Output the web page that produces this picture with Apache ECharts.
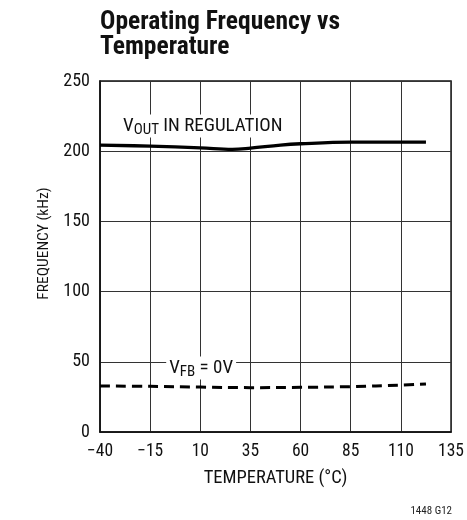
<!DOCTYPE html>
<html><head><meta charset="utf-8">
<script src="https://cdn.jsdelivr.net/npm/echarts@6/dist/echarts.min.js"></script>
<style>html,body{margin:0;padding:0;background:#fff}#c{width:467px;height:520px}</style>
</head><body><div id="c"></div>
<script>
const FONT = '"Roboto Condensed","Liberation Sans Narrow",sans-serif';
const titleLines = ['Operating Frequency vs', 'Temperature'];
const xTicks = [-40, -15, 10, 35, 60, 85, 110, 135];
const yTicks = [0, 50, 100, 150, 200, 250];
const vout = [[-40, 204.3], [-15, 203.6], [10, 202.4], [26, 201.3], [35, 202.2], [50, 204.4], [60, 205.3], [85, 206.4], [110, 206.5], [122.5, 206.4]];
const vfb = [[-40, 32.8], [-15, 32.5], [10, 32.0], [35, 31.6], [60, 31.8], [85, 32.3], [110, 33.4], [122.5, 34.2]];
const labelVout = [-30, 218];
const labelVfb = [-7, 45.6];
const footnote = '1448 G12';

const chart = echarts.init(document.getElementById('c'));
const rich = {
  v: {fontFamily: FONT, fontSize: 19, color: '#111', lineHeight: 21},
  s: {fontFamily: FONT, fontSize: 15, color: '#111', lineHeight: 21, padding: [9, 0, 0, 0]},
};
chart.setOption({
  animation: false,
  backgroundColor: '#fff',
  title: {
    text: titleLines.join('\n'), left: 95, top: 5,
    textStyle: {fontFamily: FONT, fontSize: 25.5, fontWeight: 'bold', color: '#111', lineHeight: 25}
  },
  graphic: [{type: 'text', right: 15, top: 506, style: {text: footnote, font: '11px ' + FONT, fill: '#222'}}],
  grid: {left: 100, right: 15, top: 81, bottom: 88, show: true, borderColor: '#111', borderWidth: 1.5},
  xAxis: {
    type: 'value', min: -40, max: 135, interval: 25,
    name: 'TEMPERATURE (°C)', nameLocation: 'middle', nameGap: 37,
    nameTextStyle: {fontFamily: FONT, fontSize: 18.5, color: '#111'},
    axisLine: {onZero: false, lineStyle: {color: '#111', width: 1.5}},
    axisTick: {show: false},
    axisLabel: {fontFamily: FONT, fontSize: 17.5, color: '#111', margin: 11,
      formatter: v => String(v).replace('-', '\u2212')},
    splitLine: {lineStyle: {color: '#333', width: 1}}
  },
  yAxis: {
    type: 'value', min: 0, max: 250, interval: 50,
    name: 'FREQUENCY (kHz)', nameLocation: 'middle', nameGap: 48,
    nameTextStyle: {fontFamily: FONT, fontSize: 15.5, color: '#111', padding: [0, 0, 0, 26]},
    axisLine: {show: true, onZero: false, lineStyle: {color: '#111', width: 1.5}},
    axisTick: {show: false},
    axisLabel: {fontFamily: FONT, fontSize: 18, color: '#111', margin: 10},
    splitLine: {lineStyle: {color: '#333', width: 1}}
  },
  series: [
    {type: 'line', data: vout, smooth: 0.4, symbol: 'none', lineStyle: {color: '#000', width: 3.3}, z: 3,
      markPoint: {symbolSize: 0, data: [{coord: labelVout}],
        label: {show: true, position: 'right', distance: 0, backgroundColor: '#fff', padding: [1, 3, 1, 3],
          formatter: '{v|V}{s|OUT}{v| IN REGULATION}', rich: rich}}},
    {type: 'line', data: vfb, smooth: 0.4, symbol: 'none', lineStyle: {color: '#000', width: 3, type: [10, 6]}, z: 3,
      markPoint: {symbolSize: 0, data: [{coord: labelVfb}],
        label: {show: true, position: 'right', distance: 0, backgroundColor: '#fff', padding: [1, 3, 1, 3],
          formatter: '{v|V}{s|FB}{v| = 0V}', rich: rich}}}
  ]
});
</script></body></html>
